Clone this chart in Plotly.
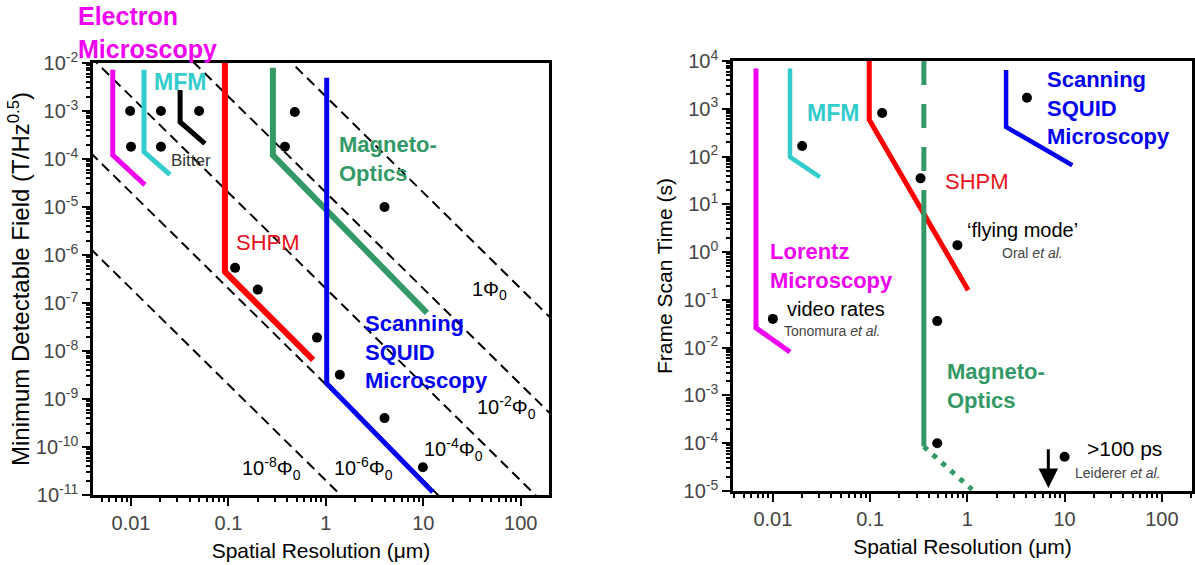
import math
import plotly.graph_objects as go

# ---------------- data : left panel (field sensitivity) ----------------
em_x = [0.0065, 0.0065, 0.0139]          # electron microscopy
em_b = [7.2e-3, 1.2e-4, 2.9e-5]
mfm_x = [0.0136, 0.0136, 0.0251]
mfm_b = [7.2e-3, 1.4e-4, 4.7e-5]
bitter_x = [0.0319, 0.0319, 0.0574]
bitter_b = [2.75e-3, 5.9e-4, 2.1e-4]
shpm_x = [0.092, 0.092, 0.74]
shpm_b = [1.0e-2, 4.5e-7, 6.5e-9]
mo_x = [0.286, 0.286, 10.9]
mo_b = [8.0e-3, 1.2e-4, 6.2e-8]
squid_x = [1.02, 1.02, 12.5]
squid_b = [4.9e-3, 2.1e-9, 1.15e-11]

dots_l_x = [0.0098, 0.0100, 0.0203, 0.0203, 0.050, 0.48, 0.38, 4.0,
            0.117, 0.20, 0.81, 1.39, 4.0, 9.9]
dots_l_b = [1e-3, 1.8e-4, 1e-3, 1.8e-4, 1e-3, 9.5e-4, 1.8e-4, 1e-5,
            5.4e-7, 1.9e-7, 1.9e-8, 3.2e-9, 4.0e-10, 3.8e-11]

# flux-quantum guide lines (two end points each)
flux_x = [0.001, 1000]
flux_b_start = [2000, 20, 0.2, 2e-3, 2e-5]
flux_b_end = [2e-9, 2e-11, 2e-13, 2e-15, 2e-17]
flux_labels = ["1Φ<sub>0</sub>", "10<sup>-2</sup>Φ<sub>0</sub>", "10<sup>-4</sup>Φ<sub>0</sub>",
               "10<sup>-6</sup>Φ<sub>0</sub>", "10<sup>-8</sup>Φ<sub>0</sub>"]
flux_label_x = [48.0, 71.8, 20.6, 2.45, 0.279]
flux_label_b = [1.86e-7, 6.5e-10, 8.7e-11, 3.6e-11, 3.6e-11]

# ---------------- data : right panel (frame scan time) ----------------
lor_x = [0.0067, 0.0067, 0.015]
lor_t = [7e3, 0.026, 8.1e-3]
mfm2_x = [0.015, 0.015, 0.0305]
mfm2_t = [7e3, 98, 37]
shpm2_x = [0.098, 0.098, 1.02]
shpm2_t = [1e4, 590, 0.16]
mo2_dash_x = [0.357, 0.357]
mo2_dash_t = [1e4, 20]
mo2_solid_x = [0.357, 0.357]
mo2_solid_t = [20, 8.5e-5]
mo2_dot_x = [0.357, 1.12]
mo2_dot_t = [8.5e-5, 1.07e-5]
squid2_x = [2.5, 2.5, 12]
squid2_t = [6.5e3, 417, 66]

dots_r_x = [0.020, 0.133, 0.33, 4.1, 0.79, 0.01, 0.49, 0.49, 10]
dots_r_t = [166, 815, 35, 1.7e3, 1.4, 0.04, 0.036, 1.0e-4, 5.2e-5]

arrow_x = 6.8
arrow_t_from = 8e-5
arrow_t_to = 1.15e-5

# tick labels (decade exponents, inclusive)
left_y_exp = list(range(-11, -1))
right_y_exp = list(range(-5, 5))
x_tick_vals = [0.01, 0.1, 1, 10, 100]
x_tick_text = ["0.01", "0.1", "1", "10", "100"]

# ---------------- colours / styles ----------------
MAG = "#F000F0"
CYAN = "#33CCCC"
RED = "#FF0000"
GREEN = "#339966"
BLUE = "#0000EE"
FONT = "Liberation Sans, Arial, sans-serif"

L = math.log10
fig = go.Figure()


def line(x, y, color, width, xa="x", ya="y", dash="solid"):
    fig.add_trace(go.Scatter(x=x, y=y, mode="lines", xaxis=xa, yaxis=ya,
                             line=dict(color=color, width=width, dash=dash),
                             showlegend=False, hoverinfo="skip"))


# left panel
for s, e in zip(flux_b_start, flux_b_end):
    line(flux_x, [s, e], "black", 2, dash="10px,6px")
line(em_x, em_b, MAG, 5)
line(mfm_x, mfm_b, CYAN, 5)
line(bitter_x, bitter_b, "black", 5)
line(shpm_x, shpm_b, RED, 6)
line(mo_x, mo_b, GREEN, 6)
line(squid_x, squid_b, BLUE, 5)
fig.add_trace(go.Scatter(x=dots_l_x, y=dots_l_b, mode="markers",
                         marker=dict(color="black", size=10), showlegend=False,
                         xaxis="x", yaxis="y"))

# right panel
line(lor_x, lor_t, MAG, 5, "x2", "y2")
line(mfm2_x, mfm2_t, CYAN, 4.5, "x2", "y2")
line(shpm2_x, shpm2_t, RED, 5, "x2", "y2")
line(mo2_dash_x, mo2_dash_t, GREEN, 5, "x2", "y2", dash="24px,19px")
line(mo2_solid_x, mo2_solid_t, GREEN, 5, "x2", "y2")
line(mo2_dot_x, mo2_dot_t, GREEN, 5, "x2", "y2", dash="5px,7px")
line(squid2_x, squid2_t, BLUE, 4.5, "x2", "y2")
fig.add_trace(go.Scatter(x=dots_r_x, y=dots_r_t, mode="markers",
                         marker=dict(color="black", size=10), showlegend=False,
                         xaxis="x2", yaxis="y2"))


def minor_vals(lo, hi):
    return [m * 10 ** e for e in range(lo, hi) for m in range(2, 10)]


def xaxis(domain, rng, anchor):
    return dict(type="log", domain=domain, range=rng, anchor=anchor,
                tickvals=x_tick_vals, ticktext=x_tick_text,
                ticks="outside", ticklen=8, tickwidth=2, tickcolor="black",
                minor=dict(tickvals=minor_vals(-3, 3), ticks="outside", ticklen=4,
                           tickwidth=1.5, tickcolor="black"),
                showline=True, linecolor="black", linewidth=2.5, mirror=True,
                showgrid=False, zeroline=False,
                tickfont=dict(family=FONT, size=20, color="#444"),
                title=dict(text="Spatial Resolution (μm)",
                           font=dict(family=FONT, size=21, color="black"), standoff=11),
                automargin=False)


def yaxis(domain, exps, anchor, title, tsize, standoff):
    return dict(type="log", domain=domain, range=[exps[0], exps[-1]], anchor=anchor,
                tickvals=[10 ** e for e in exps],
                ticktext=["10<sup>%d</sup>" % e for e in exps],
                ticks="outside", ticklen=8, tickwidth=2, tickcolor="black",
                minor=dict(tickvals=minor_vals(exps[0], exps[-1]), ticks="outside",
                           ticklen=4, tickwidth=1.5, tickcolor="black"),
                showline=True, linecolor="black", linewidth=2.5, mirror=True,
                showgrid=False, zeroline=False,
                tickfont=dict(family=FONT, size=20, color="#444"),
                title=dict(text=title, font=dict(family=FONT, size=tsize, color="black"),
                           standoff=standoff),
                automargin=False)


ann = []


def txt(text, x, y, xr, yr, color, size, bold=False, xanchor="center", align="center"):
    if bold:
        text = "<b>" + text.replace("<br>", "</b><br><b>") + "</b>"
    ann.append(dict(text=text, x=L(x), y=L(y), xref=xr, yref=yr, showarrow=False,
                    xanchor=xanchor, yanchor="middle", align=align,
                    font=dict(family=FONT, size=size, color=color)))


# left panel labels
ann.append(dict(text="<b>Electron</b><br><b>Microscopy</b>", x=76 / 1195, y=1 - 33 / 565,
                xref="paper", yref="paper", showarrow=False, xanchor="left",
                yanchor="middle", align="left",
                font=dict(family=FONT, size=25, color=MAG)))
txt("MFM", 0.0318, 4.0e-3, "x", "y", CYAN, 23, True)
txt("Bitter", 0.0412, 9.5e-5, "x", "y", "#333", 17)
txt("SHPM", 0.254, 1.86e-6, "x", "y", "#E8101A", 22)
txt("Magneto-<br>Optics", 1.30, 1.0e-4, "x", "y", GREEN, 22, True, "left", "left")
txt("Scanning<br>SQUID<br>Microscopy", 2.39, 9.5e-9, "x", "y", BLUE, 22, True, "left", "left")
for lab, lx, lb in zip(flux_labels, flux_label_x, flux_label_b):
    txt(lab, lx, lb, "x", "y", "black", 20)

# right panel labels
txt("MFM", 0.0414, 813, "x2", "y2", CYAN, 23, True)
txt("SHPM", 1.25, 29.5, "x2", "y2", "#E8101A", 22)
txt("Scanning<br>SQUID<br>Microscopy", 6.27, 1.05e3, "x2", "y2", BLUE, 22, True, "left", "left")
txt("‘flying mode’", 0.94, 2.9, "x2", "y2", "black", 20, False, "left", "left")
txt("Oral <i>et al.</i>", 2.16, 0.96, "x2", "y2", "#444", 14, False, "left", "left")
txt("Lorentz<br>Microscopy", 0.0089, 0.51, "x2", "y2", MAG, 22, True, "left", "left")
txt("video rates", 0.0133, 0.065, "x2", "y2", "black", 20, False, "left", "left")
txt("Tonomura <i>et al.</i>", 0.0124, 0.0224, "x2", "y2", "#444", 14, False, "left", "left")
txt("Magneto-<br>Optics", 0.587, 1.6e-3, "x2", "y2", GREEN, 22, True, "left", "left")
txt("&gt;100 ps", 16.1, 7.9e-5, "x2", "y2", "black", 21, False, "left", "left")
txt("Leiderer <i>et al.</i>", 12.2, 2.4e-5, "x2", "y2", "#444", 14, False, "left", "left")

ann.append(dict(text="", x=L(arrow_x), y=L(arrow_t_to), ax=L(arrow_x), ay=L(arrow_t_from),
                xref="x2", yref="y2", axref="x2", ayref="y2", showarrow=True,
                arrowhead=2, arrowsize=1.3, arrowwidth=3, arrowcolor="black"))

fig.update_layout(
    width=1195, height=565, margin=dict(l=0, r=0, t=0, b=0),
    paper_bgcolor="white", plot_bgcolor="white", showlegend=False,
    xaxis=xaxis([93 / 1195, 549 / 1195], [-2.39, 2.29], "y"),
    yaxis=yaxis([1 - 495 / 565, 1 - 63 / 565], left_y_exp, "x",
                "Minimum Detectable Field (T/Hz<sup>0.5</sup>)", 24, 0),
    xaxis2=xaxis([733 / 1195, 1192 / 1195], [-2.41, 2.31], "y2"),
    yaxis2=yaxis([1 - 491 / 565, 1 - 61 / 565], right_y_exp, "x2",
                 "Frame Scan Time (s)", 21, 6),
    annotations=ann,
)

fig.write_html("out.html", config={"displayModeBar": False},
               post_script="document.body.style.margin='0';document.body.style.overflow='hidden';")
